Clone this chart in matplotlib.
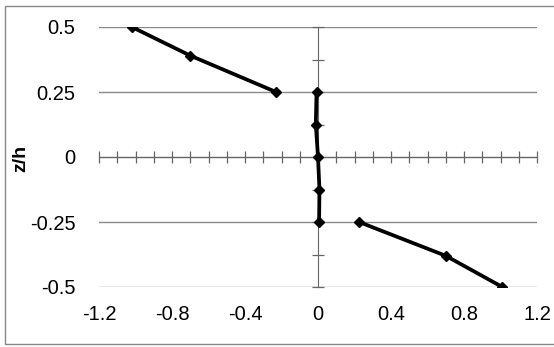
import matplotlib
matplotlib.use('Agg')
import matplotlib.pyplot as plt
import numpy as np
from matplotlib.patches import Rectangle

plt.rcParams['font.family'] = ['Liberation Sans', 'DejaVu Sans']

# upper branch
x_top = [-1.02, -0.70, -0.23]
z_top = [0.5, 0.39, 0.25]
# middle branch along the axis
x_mid = [-0.008, -0.012, 0.0, 0.008, 0.006]
z_mid = [0.25, 0.125, 0.0, -0.125, -0.25]
# lower branch
x_bot = [0.225, 0.70, 1.01]
z_bot = [-0.25, -0.38, -0.5]

x_ticks = [-1.2, -0.8, -0.4, 0, 0.4, 0.8, 1.2]
x_labels = ['-1.2', '-0.8', '-0.4', '0', '0.4', '0.8', '1.2']
y_ticks = [-0.5, -0.25, 0, 0.25, 0.5]
y_labels = ['-0.5', '-0.25', '0', '0.25', '0.5']

W, H = 554, 347
fig = plt.figure(figsize=(W / 100, H / 100), dpi=100)

# outer chart border
fig.patches.append(Rectangle((5 / W, 3 / H), 560 / W, 338 / H, transform=fig.transFigure,
                             fill=False, edgecolor='#888888', lw=1.0))

pos = [99 / W, 60 / H, 438 / W, 260 / H]
ax = fig.add_axes(pos)
ax.set_xlim(-1.2, 1.2)
ax.set_ylim(-0.5, 0.5)
ax.set_xticks(x_ticks)
ax.set_xticklabels(x_labels)
ax.set_yticks(y_ticks)
ax.set_yticklabels(y_labels)
ax.tick_params(length=0, labelsize=14.5)
ax.tick_params(axis='y', pad=17)
ax.tick_params(axis='x', pad=13)
ax.grid(axis='y', color='#8a8a8a', lw=1.0)
for s in ax.spines.values():
    s.set_visible(False)
fig.text(21 / W, 1 - 158 / H, 'z/h', fontsize=14, fontweight='bold',
         rotation=90, ha='center', va='center')

# axis lines crossing at zero with tick marks
axz = fig.add_axes(pos)
axz.patch.set_visible(False)
axz.set_xlim(-1.2, 1.2)
axz.set_ylim(-0.5, 0.5)
for s in ['top', 'right']:
    axz.spines[s].set_visible(False)
axz.spines['left'].set_position(('data', 0))
axz.spines['bottom'].set_position(('data', 0))
axz.spines['left'].set_color('#666666')
axz.spines['bottom'].set_color('#666666')
axz.set_xticks(np.arange(-12, 13) / 10)
axz.set_yticks(np.arange(-4, 5) / 8)
axz.tick_params(direction='inout', length=8, width=0.9, color='#666666',
                labelbottom=False, labelleft=False)

for xs, zs in [(x_top, z_top), (x_mid, z_mid), (x_bot, z_bot)]:
    axz.plot(xs, zs, color='black', lw=2.7, marker='D', markersize=5, zorder=5)

fig.savefig('out.png', dpi=100)
